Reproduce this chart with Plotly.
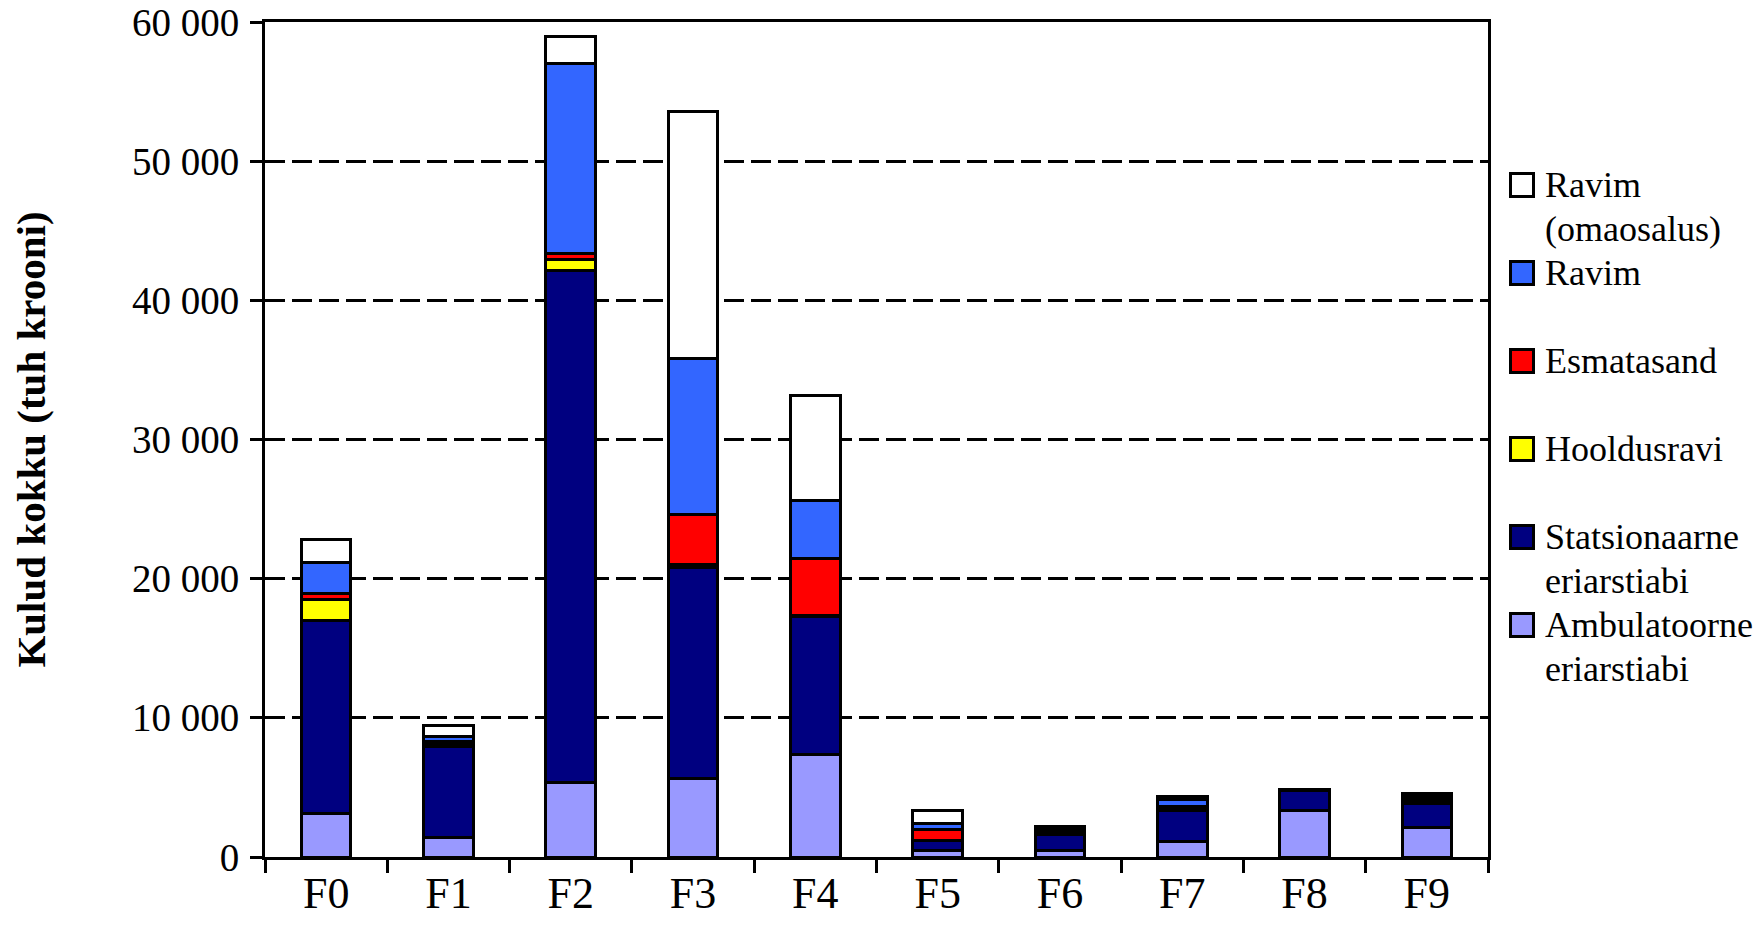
import plotly.graph_objects as go

# Diagnosis groups on the x axis
categories = ["F0", "F1", "F2", "F3", "F4", "F5", "F6", "F7", "F8", "F9"]

# Costs in thousand kroons, stacked bottom to top
ambulatoorne = [3100, 1410, 5370, 5610, 7330, 480, 480, 1150, 3350, 2100]
statsionaarne = [13900, 6560, 36800, 15200, 9960, 700, 1170, 2200, 1450, 1720]
hooldusravi = [1500, 130, 730, 200, 40, 30, 50, 100, 0, 150]
esmatasand = [460, 180, 490, 3600, 4110, 740, 150, 185, 0, 200]
ravim = [2200, 400, 13640, 11220, 4150, 490, 200, 470, 30, 200]
ravim_omaosalus = [1670, 760, 1960, 17710, 7540, 930, 130, 210, 0, 190]

series_names = [
    "Ambulatoorne eriarstiabi",
    "Statsionaarne eriarstiabi",
    "Hooldusravi",
    "Esmatasand",
    "Ravim",
    "Ravim (omaosalus)",
]
series_values = [ambulatoorne, statsionaarne, hooldusravi, esmatasand, ravim, ravim_omaosalus]
series_colors = ["#9999FF", "#000080", "#FFFF00", "#FF0000", "#3366FF", "#FFFFFF"]
# Legend text lines, same order as the series
legend_lines = [
    ["Ambulatoorne", "eriarstiabi"],
    ["Statsionaarne", "eriarstiabi"],
    ["Hooldusravi"],
    ["Esmatasand"],
    ["Ravim"],
    ["Ravim", "(omaosalus)"],
]

y_tick_values = [0, 10000, 20000, 30000, 40000, 50000, 60000]
y_tick_labels = ["0", "10 000", "20 000", "30 000", "40 000", "50 000", "60 000"]
y_title = "Kulud kokku (tuh krooni)"

FONT = "Liberation Serif, Times New Roman, serif"
W, H = 1762, 939
M_L, M_R, M_T, M_B = 265, 274, 22, 82
PLOT_W = W - M_L - M_R
PLOT_H = H - M_T - M_B


def paper_x(px):
    return (px - M_L) / PLOT_W


def paper_y(py):
    return (H - M_B - py) / PLOT_H


fig = go.Figure()
for name, vals, color in zip(series_names, series_values, series_colors):
    fig.add_trace(
        go.Bar(
            x=categories,
            y=vals,
            name=name,
            marker=dict(color=color, line=dict(color="black", width=3)),
            showlegend=False,
        )
    )

# Legend drawn as boxes and text to the right of the plot, top entry first
shapes = []
annotations = []
first_center, step, line_gap = 185, 88, 44
for i, idx in enumerate(reversed(range(len(series_names)))):
    cy = first_center + i * step
    shapes.append(
        dict(
            type="rect", xref="paper", yref="paper",
            x0=paper_x(1510.5), x1=paper_x(1533.5),
            y0=paper_y(cy + 11.5), y1=paper_y(cy - 11.5),
            fillcolor=series_colors[idx],
            line=dict(color="black", width=3),
        )
    )
    for j, text in enumerate(legend_lines[idx]):
        annotations.append(
            dict(
                text=text, xref="paper", yref="paper",
                x=paper_x(1543), y=paper_y(cy + j * line_gap),
                xanchor="left", yanchor="middle", showarrow=False,
                font=dict(family=FONT, size=36, color="black"),
            )
        )

fig.update_layout(
    width=W,
    height=H,
    margin=dict(l=M_L, r=M_R, t=M_T, b=M_B, autoexpand=False),
    barmode="stack",
    bargap=0.595,
    plot_bgcolor="white",
    paper_bgcolor="white",
    showlegend=False,
    shapes=shapes,
    annotations=annotations,
    font=dict(family=FONT, color="black"),
)

fig.update_xaxes(
    type="category",
    automargin=False,
    showline=True, linecolor="black", linewidth=3, mirror=True,
    ticks="outside", tickson="boundaries", ticklen=13, tickwidth=3, tickcolor="black",
    showgrid=False,
    tickfont=dict(family=FONT, size=44, color="black"),
    ticklabelstandoff=-5,
)

fig.update_yaxes(
    range=[0, 60000],
    automargin=False,
    tickmode="array", tickvals=y_tick_values, ticktext=y_tick_labels,
    showline=True, linecolor="black", linewidth=3, mirror=True,
    ticks="outside", ticklen=12, tickwidth=3, tickcolor="black",
    ticklabelstandoff=3,
    showgrid=True, gridcolor="black", gridwidth=2.5, griddash="20px,7px",
    zeroline=False,
    tickfont=dict(family=FONT, size=39, color="black"),
    title=dict(
        text=y_title,
        font=dict(family=FONT, size=41, color="black", weight="bold"),
        standoff=74,
    ),
)

fig.write_html("out.html")
